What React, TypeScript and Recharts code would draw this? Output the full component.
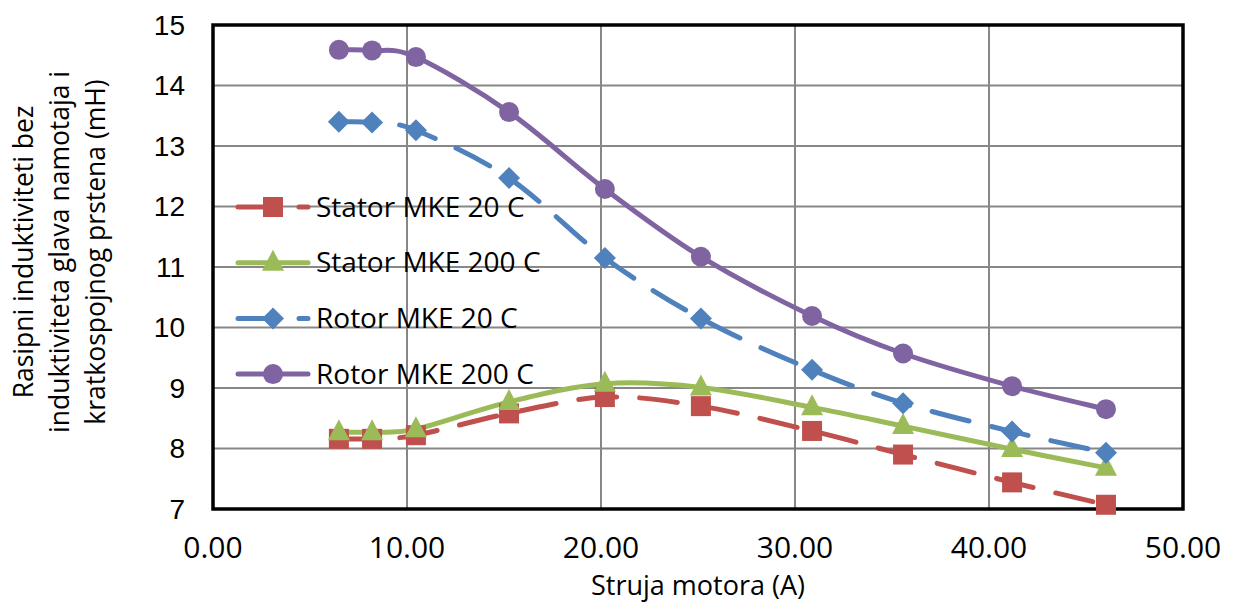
import React from "react";
import {
  LineChart,
  Line,
  XAxis,
  YAxis,
  CartesianGrid,
  ReferenceArea,
  Legend,
} from "recharts";

// ---- data ----
const current = [6.49, 8.2, 10.46, 15.26, 20.2, 25.15, 30.88, 35.57, 41.19, 46.03];
const statorMKE20 = [8.16, 8.16, 8.22, 8.58, 8.85, 8.7, 8.29, 7.9, 7.44, 7.07];
const statorMKE200 = [8.27, 8.27, 8.32, 8.77, 9.07, 9.01, 8.68, 8.37, 7.99, 7.68];
const rotorMKE20 = [13.4, 13.39, 13.26, 12.47, 11.15, 10.15, 9.3, 8.75, 8.28, 7.93];
const rotorMKE200 = [14.59, 14.58, 14.47, 13.56, 12.29, 11.17, 10.19, 9.57, 9.03, 8.65];

const xTicks = [0, 10, 20, 30, 40, 50];
const yTicks = [7, 8, 9, 10, 11, 12, 13, 14, 15];
const seriesNames = ["Stator MKE 20 C", "Stator MKE 200 C", "Rotor MKE 20 C", "Rotor MKE 200 C"];
const xTitle = "Struja motora (A)";
const yTitleLines = [
  "Rasipni induktiviteti bez",
  "induktiviteta glava namotaja i",
  "kratkospojnog prstena  (mH)",
];

const data = current.map((x, i) => ({
  x,
  s20: statorMKE20[i],
  s200: statorMKE200[i],
  r20: rotorMKE20[i],
  r200: rotorMKE200[i],
}));

// ---- styles ----
const RED = "#C0504D";
const GREEN = "#9BBB59";
const BLUE = "#4F81BD";
const PURPLE = "#8064A2";
const DASH = "38 23";

type Shape = "square" | "triangle" | "diamond" | "circle";
const series: { key: string; name: string; color: string; dashed: boolean; shape: Shape }[] = [
  { key: "s20", name: seriesNames[0], color: RED, dashed: true, shape: "square" },
  { key: "s200", name: seriesNames[1], color: GREEN, dashed: false, shape: "triangle" },
  { key: "r20", name: seriesNames[2], color: BLUE, dashed: true, shape: "diamond" },
  { key: "r200", name: seriesNames[3], color: PURPLE, dashed: false, shape: "circle" },
];

function Marker({ cx, cy, shape, color }: { cx: number; cy: number; shape: Shape; color: string }) {
  if (cx == null || cy == null) return null;
  switch (shape) {
    case "square":
      return <rect x={cx - 10} y={cy - 10} width={20} height={20} fill={color} />;
    case "triangle":
      return (
        <polygon
          points={`${cx},${cy - 13} ${cx + 11},${cy + 8} ${cx - 11},${cy + 8}`}
          fill={color}
        />
      );
    case "diamond":
      return (
        <polygon
          points={`${cx},${cy - 11} ${cx + 11},${cy} ${cx},${cy + 11} ${cx - 11},${cy}`}
          fill={color}
        />
      );
    default:
      return <circle cx={cx} cy={cy} r={10} fill={color} />;
  }
}

// Excel-like smoothed line (Catmull-Rom as cubic Bezier)
function excelCurve(context: any) {
  let pts: number[][] = [];
  return {
    areaStart() {},
    areaEnd() {},
    lineStart() {
      pts = [];
    },
    point(x: number, y: number) {
      pts.push([+x, +y]);
    },
    lineEnd() {
      if (!pts.length) return;
      context.moveTo(pts[0][0], pts[0][1]);
      for (let i = 0; i < pts.length - 1; i++) {
        const p0 = pts[i - 1] || pts[i];
        const p1 = pts[i];
        const p2 = pts[i + 1];
        const p3 = pts[i + 2] || p2;
        context.bezierCurveTo(
          p1[0] + (p2[0] - p0[0]) / 6,
          p1[1] + (p2[1] - p0[1]) / 6,
          p2[0] - (p3[0] - p1[0]) / 6,
          p2[1] - (p3[1] - p1[1]) / 6,
          p2[0],
          p2[1]
        );
      }
    },
  };
}

const FONT_CAL = "'Open Sans', 'DejaVu Sans', sans-serif";
const FONT_ARIAL = "'Liberation Sans', Arial, sans-serif";

function LegendContent() {
  return (
    <svg width={340} height={220} style={{ overflow: "visible", display: "block" }}>
      {series.map((s, i) => {
        const cy = 27 + i * 55.7;
        return (
          <g key={s.key}>
            <line
              x1={8}
              y1={cy}
              x2={78}
              y2={cy}
              stroke={s.color}
              strokeWidth={5}
              strokeLinecap="round"
              strokeDasharray={s.dashed ? DASH : undefined}
            />
            <Marker cx={43} cy={cy} shape={s.shape} color={s.color} />
            <text
              x={86}
              y={cy + 9.5}
              fontFamily={FONT_CAL}
              fontSize={28}
              fill="#000"
            >
              {s.name}
            </text>
          </g>
        );
      })}
    </svg>
  );
}

function YTitle() {
  const cy = 252;
  const baseX = [33, 69, 105];
  return (
    <g>
      {yTitleLines.map((t, i) => (
        <text
          key={i}
          x={baseX[i]}
          y={cy}
          transform={`rotate(-90, ${baseX[i]}, ${cy})`}
          textAnchor="middle"
          fontFamily={FONT_CAL}
          fontSize={26.5}
          fill="#000"
        >
          {t}
        </text>
      ))}
    </g>
  );
}

function XTitle(props: any) {
  const vb = props.viewBox || {};
  return (
    <text
      x={vb.x + vb.width / 2}
      y={595}
      textAnchor="middle"
      fontFamily={FONT_CAL}
      fontSize={27}
      fill="#000"
    >
      {xTitle}
    </text>
  );
}

export default function App() {
  return (
    <div style={{ position: "absolute", left: 0, top: 0, width: 1233, height: 605, background: "#fff" }}>
      <LineChart
        width={1233}
        height={605}
        data={data}
        margin={{ top: 25, right: 50, left: 0, bottom: 0 }}
      >
        <CartesianGrid stroke="#878787" strokeWidth={2} />
        <XAxis
          dataKey="x"
          type="number"
          domain={[0, 50]}
          ticks={xTicks}
          tickFormatter={(v: number) => v.toFixed(2)}
          axisLine={false}
          tickLine={false}
          tickSize={0}
          tickMargin={28}
          height={96}
          tick={{ fontFamily: FONT_CAL, fontSize: 30, fill: "#000" }}
          label={<XTitle />}
          interval={0}
        />
        <YAxis
          type="number"
          domain={[7, 15]}
          ticks={yTicks}
          axisLine={false}
          tickLine={false}
          tickSize={0}
          tickMargin={28}
          width={213}
          tick={{ fontFamily: FONT_ARIAL, fontSize: 28, fill: "#000" }}
          label={<YTitle />}
          interval={0}
        />
        <ReferenceArea
          x1={0}
          x2={50}
          y1={7}
          y2={15}
          fill="none"
          fillOpacity={0}
          stroke="#000"
          strokeWidth={3.5}
        />
        {series.map((s) => (
          <Line
            key={s.key}
            dataKey={s.key}
            name={s.name}
            type={excelCurve as any}
            stroke={s.color}
            strokeWidth={5}
            strokeLinecap="round"
            strokeDasharray={s.dashed ? DASH : undefined}
            isAnimationActive={false}
            activeDot={false}
            dot={(p: any) => (
              <Marker key={`${s.key}-${p.index}`} cx={p.cx} cy={p.cy} shape={s.shape} color={s.color} />
            )}
          />
        ))}
        <Legend
          layout="vertical"
          align="center"
          verticalAlign="middle"
          content={<LegendContent />}
          wrapperStyle={{ position: "absolute", left: 230, top: 180, width: 340, height: 220 }}
        />
      </LineChart>
    </div>
  );
}
